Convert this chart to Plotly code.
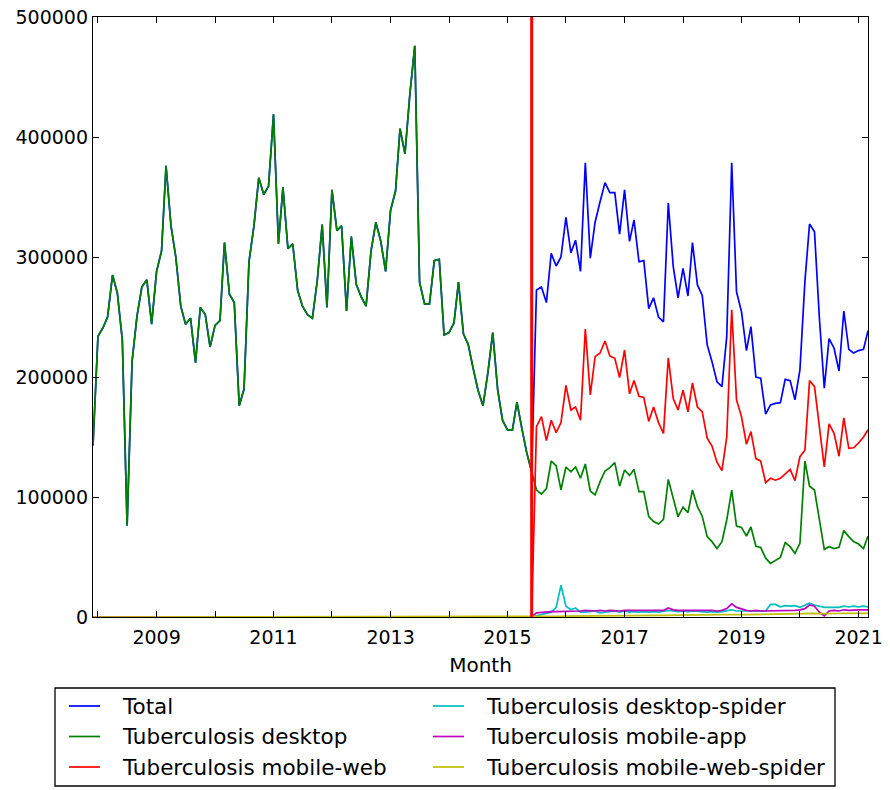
import numpy as np
import pandas as pd
import plotly.graph_objects as go

# ---------------- data (monthly page views, in thousands) ----------------
OLD_START = "2007-12-01"   # stats.grok.se era (desktop only)
NEW_START = "2015-07-01"   # pageviews API era
CHANGE_DATE = "2015-06-01" # red marker line

old_total = [
    143,
    234, 241, 250, 285, 270, 231, 76, 213, 251, 275, 281, 244,
    288, 305, 376, 326, 300, 259, 244, 249, 212, 258, 252, 225,
    243, 247, 312, 269, 262, 176, 190, 296, 326, 366, 352, 359,
    419, 311, 358, 307, 311, 272, 259, 252, 249, 280, 327, 258,
    356, 322, 326, 255, 317, 277, 267, 259, 305, 329, 313, 288,
    339, 355, 407, 386, 435, 476, 279, 261, 261, 297, 298, 235,
    237, 245, 279, 236, 227, 207, 189, 176, 204, 237, 189, 164,
    156, 156, 179, 157, 137, 121,
]

new_total = [
    272.5, 275, 262, 303, 292.5, 300,
    333, 303.6, 314, 288, 378.6, 299, 329, 346, 362, 353.6, 353.6, 319,
    356, 313, 331, 296, 297, 257, 266, 250, 246, 345, 292, 266,
    290.6, 267.5, 312, 276.7, 268, 226.7, 212.8, 196, 192, 233.6, 378.6, 271,
    254.5, 222, 242, 200, 199, 169, 176.7, 178, 178.6, 198, 197, 181,
    206, 279.5, 327.5, 321, 250, 190.6, 232, 224, 205, 255, 223, 220,
    222, 223, 238.6,
]

new_desktop = [
    105.8, 102.5, 107, 130, 126, 106,
    125, 121, 125, 115.6, 127.5, 105, 101.7, 112.8, 121.7, 124.5, 128.6, 109,
    122.5, 118, 123, 104.5, 104.5, 83.6, 79.5, 77.5, 81.4, 114.7, 99, 83.6,
    91.4, 87, 105.8, 92, 84, 67, 62.8, 57, 62.8, 80.8, 105.8, 75.8,
    74.7, 67.5, 75, 59, 58, 49, 44.7, 47, 49.7, 62, 58.6, 53,
    61.4, 130, 109, 105.8, 80.8, 56.4, 58.6, 57, 58, 72, 67, 62.8,
    60.8, 57, 67.5,
]

new_mobile_web = [
    158.6, 167, 147, 164, 153.6, 162,
    193, 172.5, 175, 164, 240, 185, 217, 220, 230, 217.5, 215.6, 199.5,
    222.5, 186, 197, 184, 183, 163, 175, 162, 153, 216, 182, 172.5,
    189, 171, 195, 175, 171, 149, 142.5, 129, 122, 150, 256, 181,
    167, 144, 154.5, 132, 130, 112, 115.6, 114, 115.6, 119, 123, 113.6,
    133.6, 139, 197, 192, 158.6, 125, 161, 153, 134, 166, 140.6, 141,
    145, 150, 156,
]

new_desktop_spider = [
    1, 2, 3, 4, 8, 26.5,
    9, 6, 7.5, 4, 4, 4.5, 5, 3.5, 4, 4.5, 5, 4,
    5, 4, 4.5, 4, 4.5, 4, 4.5, 4, 5, 5.5, 5, 4.5,
    5, 4.5, 5, 4.5, 4.5, 4, 4.5, 4, 4.5, 5, 6, 5,
    5, 4.5, 4.5, 4.5, 5, 5, 10.5, 10.5, 8.5, 9.5, 9, 9.5,
    8, 9.5, 11.5, 10, 9, 8, 8, 8, 8, 9, 8.5, 9,
    8.5, 9, 8.5,
]

new_mobile_app = [
    3.5, 4, 4, 4.5, 4.5, 4.5,
    5, 4.5, 5, 5, 5.5, 5, 5, 5.5, 5, 5.5, 5, 5,
    5.5, 5.5, 5, 5.5, 5.5, 5, 5.5, 5.5, 5.5, 7.5, 6, 5.5,
    5.5, 5.5, 6, 5.5, 5.5, 5.5, 5.5, 5, 5.5, 7, 11, 8,
    6.5, 5.5, 5, 5.5, 5, 5, 5, 5, 5, 5, 5.5, 5.5,
    6, 7, 10, 9, 4, 1, 5, 5.5, 5, 6, 5.5, 6,
    6, 6, 6,
]

new_mobile_web_spider = [
    0.3, 0.4, 0.5, 0.5, 0.6, 0.6,
    0.7, 0.7, 0.8, 0.8, 0.8, 0.9, 0.9, 0.9, 1.0, 1.0, 1.0, 1.0,
    1.0, 1.1, 1.1, 1.2, 1.2, 1.2, 1.3, 1.3, 1.4, 1.5, 1.5, 1.5,
    1.6, 1.6, 1.7, 1.7, 1.8, 1.8, 1.9, 1.9, 2.0, 2.0, 2.2, 2.1,
    2.1, 2.0, 2.1, 2.2, 2.2, 2.3, 2.4, 2.4, 2.5, 2.5, 2.6, 2.6,
    2.7, 2.8, 3.0, 3.0, 2.8, 2.7, 2.8, 2.8, 2.9, 3.0, 3.0, 3.0,
    3.0, 3.1, 3.1,
]

old_zero = [0] * len(old_total)  # non-desktop series were zero before the API era

series_names = [
    "Total",
    "Tuberculosis desktop",
    "Tuberculosis mobile-web",
    "Tuberculosis desktop-spider",
    "Tuberculosis mobile-app",
    "Tuberculosis mobile-web-spider",
]
series_colors = ["#0000ff", "#008000", "#ff0000", "#00bfbf", "#bf00bf", "#bfbf00"]

y_ticks = [0, 100000, 200000, 300000, 400000, 500000]

# ---------------- assemble ----------------
months = list(pd.date_range(OLD_START, periods=len(old_total), freq="MS")) + \
         list(pd.date_range(NEW_START, periods=len(new_total), freq="MS"))

series_values = [
    old_total + new_total,
    old_total + new_desktop,
    old_zero + new_mobile_web,
    old_zero + new_desktop_spider,
    old_zero + new_mobile_app,
    old_zero + new_mobile_web_spider,
]

FONT = "DejaVu Sans"
W, H = 890, 790
OFF = 8  # page body margin offsets the figure inside the window
# plot box in window pixels: left 93, right 868, top 17, bottom 617
ML, MT = 93 - OFF, 17 - OFF
MR, MB = W - (868 - OFF), H - (617 - OFF)
PW, PH = W - ML - MR, H - MT - MB


def px(xs):   # window pixel -> paper x
    return (xs - OFF - ML) / PW


def py(ys):   # window pixel -> paper y
    return (H - MB - (ys - OFF)) / PH


fig = go.Figure()
for name, vals, col in zip(series_names, series_values, series_colors):
    fig.add_trace(go.Scatter(
        x=months, y=np.array(vals) * 1000, mode="lines", name=name,
        line=dict(color=col, width=1.7), showlegend=False,
    ))

fig.add_vline(x=pd.Timestamp(CHANGE_DATE), line=dict(color="#ff0000", width=3))

# ---------------- legend (two columns, drawn in paper space) ----------------
fig.add_shape(type="rect", xref="paper", yref="paper",
              x0=px(55), x1=px(835), y0=py(786), y1=py(688),
              line=dict(color="black", width=1.3), fillcolor="rgba(0,0,0,0)")
col_x = [69, 433]
row_y = [706, 736.5, 767]
for i, (name, col) in enumerate(zip(series_names, series_colors)):
    cx = col_x[i // 3]
    ry = row_y[i % 3]
    fig.add_shape(type="line", xref="paper", yref="paper",
                  x0=px(cx), x1=px(cx + 31), y0=py(ry), y1=py(ry),
                  line=dict(color=col, width=1.7))
    fig.add_annotation(xref="paper", yref="paper", x=px(cx + 51), y=py(ry),
                       text=name, showarrow=False, xanchor="left", yanchor="middle",
                       font=dict(family=FONT, size=21.5, color="black"))

fig.update_layout(
    width=W, height=H,
    margin=dict(l=ML, r=MR, t=MT, b=MB, autoexpand=False),
    paper_bgcolor="white", plot_bgcolor="white",
    font=dict(family=FONT, size=19, color="black"),
    showlegend=False,
    xaxis=dict(
        range=[pd.Timestamp("2007-12-01"), pd.Timestamp("2021-03-01")],
        type="date", tick0="2009-01-01", dtick="M24", tickformat="%Y",
        ticks="inside", ticklen=6, tickwidth=1, tickcolor="black",
        minor=dict(dtick="M12", tick0="2008-01-01", ticks="inside", ticklen=6, tickcolor="black"),
        showline=True, linecolor="black", linewidth=1.3, mirror="ticks",
        showgrid=False, zeroline=False,
        title=dict(text="Month", font=dict(size=20), standoff=11),
        tickfont=dict(size=19), ticklabelstandoff=3,
    ),
    yaxis=dict(
        range=[0, 500000], tickvals=y_ticks, ticktext=[str(v) for v in y_ticks],
        ticks="inside", ticklen=6, tickwidth=1, tickcolor="black",
        showline=True, linecolor="black", linewidth=1.3, mirror="ticks",
        showgrid=False, zeroline=False, tickfont=dict(size=19),
        ticklabeloverflow="allow",
    ),
)

fig.write_html("out.html")
